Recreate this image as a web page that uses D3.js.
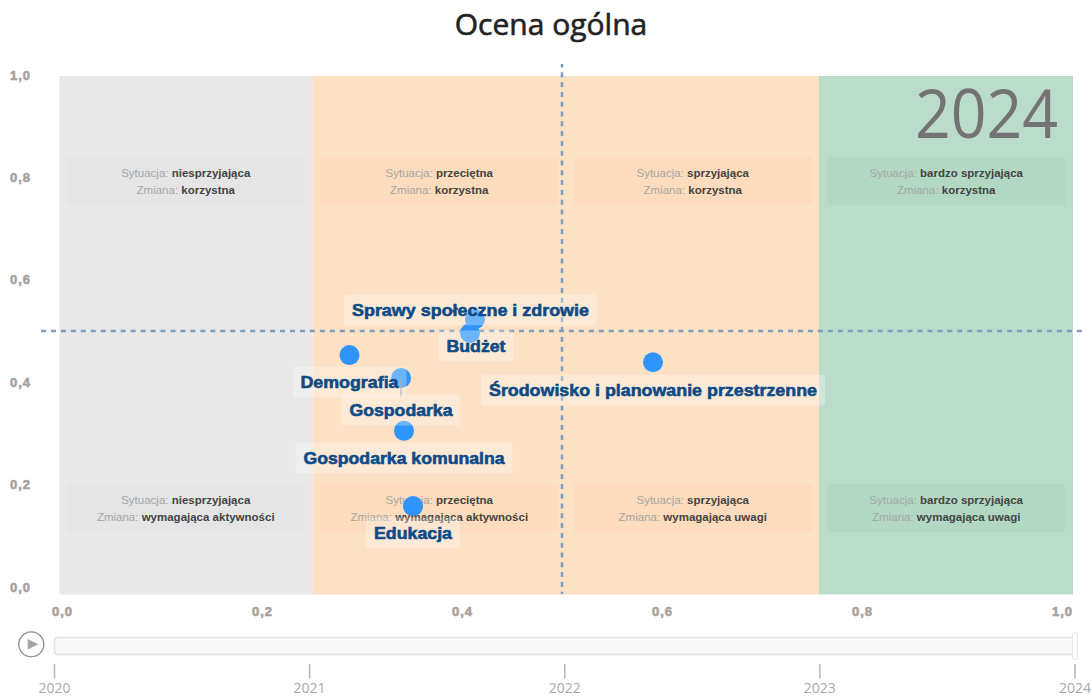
<!DOCTYPE html>
<html>
<head>
<meta charset="utf-8">
<script src="https://cdn.jsdelivr.net/npm/d3@7"></script>
<style>
    html, body { margin: 0; padding: 0; background: #fff; overflow: hidden; }
    svg { display: block; }
    .tick text { font-family: "Liberation Sans", sans-serif; font-weight: 700; font-size: 13px; fill: #a6a29e; stroke: #a6a29e; stroke-width: 0.6px; letter-spacing: 1px; }
    .note { font-family: "Liberation Sans", sans-serif; font-size: 11.5px; fill: #a5a5a5; text-anchor: middle; }
    .note tspan.val { font-weight: 700; fill: #444; }
    .label { font-family: "Liberation Sans", sans-serif; font-weight: 700; font-size: 17px; fill: #0d4a86; stroke: #0d4a86; stroke-width: 0.6px; text-anchor: middle; }
    .year { font-family: "Open Sans", sans-serif; font-size: 14px; fill: #a8a8a8; text-anchor: middle; }
</style>
</head>
<body>
<svg id="chart" width="1092" height="696"></svg>
<script>
'use strict';

var names = ["Sprawy społeczne i zdrowie", "Budżet", "Demografia", "Gospodarka",
    "Gospodarka komunalna", "Edukacja", "Środowisko i planowanie przestrzenne"];
var xValues = [0.413, 0.408, 0.2875, 0.339, 0.342, 0.351, 0.591];
var yValues = [0.523, 0.496, 0.453, 0.408, 0.305, 0.158, 0.439];

var situations = ["niesprzyjająca", "przeciętna", "sprzyjająca", "bardzo sprzyjająca"];
var changesTop = ["korzystna", "korzystna", "korzystna", "korzystna"];
var changesBottom = ["wymagająca aktywności", "wymagająca aktywności", "wymagająca uwagi", "wymagająca uwagi"];

var bandEdges = [-0.0025, 0.2505, 0.757, 1.011];
var axisTicks = [0, 0.2, 0.4, 0.6, 0.8, 1];
var years = ["2020", "2021", "2022", "2023", "2024"];
var currentYear = "2024";

var svg = d3.select("#chart");

var x = d3.scaleLinear().domain([0, 1]).range([62, 1062]);
var y = d3.scaleLinear().domain([0, 1]).range([587, 75]);
var comma = d3.formatLocale({ decimal: ",", thousands: " ", grouping: [3], currency: ["", ""] }).format(".1f");

function drawBands() {
    var colors = ["#e8e8e8", "#fce1c5", "#bcdccb"];
    svg.selectAll("rect.band")
        .data(d3.pairs(bandEdges))
        .enter().append("rect")
        .attr("class", "band")
        .attr("x", function (d) { return x(d[0]); })
        .attr("width", function (d) { return x(d[1]) - x(d[0]); })
        .attr("y", 76)
        .attr("height", 518.5)
        .attr("fill", function (d, i) { return colors[i]; });
}

function drawNotes(changes, top) {
    var boxColors = ["#e5e5e5", "#fcdcbc", "#fcdcbc", "#b2d8c3"];
    var cols = d3.scaleBand().domain(d3.range(4)).range([59, 1073]);
    var g = svg.append("g");

    situations.forEach(function (situation, i) {
        var cx = cols(i) + cols.bandwidth() / 2;
        g.append("rect")
            .attr("x", cx - 119)
            .attr("y", top)
            .attr("width", 238)
            .attr("height", 48)
            .attr("fill", boxColors[i]);

        var line1 = g.append("text").attr("class", "note").attr("x", cx).attr("y", top + 20);
        line1.append("tspan").text("Sytuacja: ");
        line1.append("tspan").attr("class", "val").text(situation);

        var line2 = g.append("text").attr("class", "note").attr("x", cx).attr("y", top + 37);
        line2.append("tspan").text("Zmiana: ");
        line2.append("tspan").attr("class", "val").text(changes[i]);
    });
}

function drawAxes() {
    svg.append("g")
        .attr("transform", "translate(0,600)")
        .call(d3.axisBottom(x).tickValues(axisTicks).tickFormat(comma).tickSize(0).tickPadding(7))
        .call(function (g) { g.select(".domain").remove(); });

    svg.append("g")
        .attr("transform", "translate(31,0)")
        .call(d3.axisLeft(y).tickValues(axisTicks).tickFormat(comma).tickSize(0).tickPadding(0))
        .call(function (g) { g.select(".domain").remove(); });
}

function drawCross() {
    var stroke = "#7f9cba";
    svg.append("line")
        .attr("x1", 41).attr("x2", 1083)
        .attr("y1", y(0.5)).attr("y2", y(0.5))
        .attr("stroke", stroke).attr("stroke-width", 2.5).attr("stroke-dasharray", "5,4.96");
    svg.append("line")
        .attr("x1", x(0.5)).attr("x2", x(0.5))
        .attr("y1", 64).attr("y2", 594)
        .attr("stroke", stroke).attr("stroke-width", 2.5)
        .attr("stroke-dasharray", "5,4.8").attr("stroke-dashoffset", 1.5);
}

function drawPoints() {
    // label placement relative to its point: dx, dy, text width
    var placement = [[-4.5, -9.5, 237], [6, 13, 59], [0, 27, 98], [0, 32, 103], [0, 27, 201], [0, 27, 78], [0, 28, 328]];

    svg.selectAll("circle.point")
        .data(names)
        .enter().append("circle")
        .attr("class", "point")
        .attr("cx", function (d, i) { return x(xValues[i]); })
        .attr("cy", function (d, i) { return y(yValues[i]); })
        .attr("r", 10)
        .attr("fill", "#2f94fb");

    // leader line of the one label that was pushed away
    svg.append("line")
        .attr("x1", x(xValues[3])).attr("x2", x(xValues[3]))
        .attr("y1", y(yValues[3])).attr("y2", y(yValues[3]) + 19)
        .attr("stroke", "#7f8c99").attr("stroke-width", 1);

    names.forEach(function (name, i) {
        var p = placement[i];
        var cx = x(xValues[i]) + p[0];
        var cy = y(yValues[i]) + p[1];
        svg.append("rect")
            .attr("x", cx - p[2] / 2 - 8)
            .attr("y", cy - 15.5)
            .attr("width", p[2] + 16)
            .attr("height", 31)
            .attr("rx", 3)
            .attr("fill", "#fff")
            .attr("opacity", 0.3);
        svg.append("text")
            .attr("class", "label")
            .attr("x", cx)
            .attr("y", cy + 6)
            .attr("textLength", p[2])
            .attr("lengthAdjust", "spacingAndGlyphs")
            .text(name);
    });
}

function drawTimeline() {
    var t = d3.scalePoint().domain(years).range([54.5, 1075]);

    svg.append("circle")
        .attr("cx", 31.3).attr("cy", 644.3).attr("r", 12.5)
        .attr("fill", "#fff").attr("stroke", "#8c8c8c").attr("stroke-width", 1.3);
    svg.append("path")
        .attr("d", d3.line()([[27.7, 639], [27.7, 649.5], [38.3, 644.3]]) + "Z")
        .attr("fill", "#a5a5a5");

    svg.append("rect")
        .attr("x", 54.5).attr("y", 637.5)
        .attr("width", 1021).attr("height", 17).attr("rx", 3)
        .attr("fill", "#f8f8f8").attr("stroke", "#e2e2e2").attr("stroke-width", 1.5);
    svg.append("rect")
        .attr("x", t(currentYear) - 2.5).attr("y", 632.5)
        .attr("width", 5).attr("height", 27).attr("rx", 2)
        .attr("fill", "#fff").attr("stroke", "#e2e2e2");

    var tick = svg.selectAll("g.yearTick").data(years).enter().append("g")
        .attr("class", "yearTick")
        .attr("transform", function (d) { return "translate(" + t(d) + ",0)"; });
    tick.append("line")
        .attr("y1", 664).attr("y2", 678.5)
        .attr("stroke", "#b5b5b5").attr("stroke-width", 1.5);
    tick.append("text")
        .attr("class", "year")
        .attr("y", 693)
        .text(function (d) { return d; });
}

drawBands();
drawNotes(changesTop, 157);
drawNotes(changesBottom, 484);
drawAxes();

svg.append("text")
    .attr("x", 1058).attr("y", 138)
    .attr("text-anchor", "end")
    .attr("font-family", "Open Sans, sans-serif")
    .attr("font-size", 67)
    .attr("textLength", 143)
    .attr("lengthAdjust", "spacingAndGlyphs")
    .attr("fill", "#737373")
    .text(currentYear);

drawCross();
drawPoints();
drawTimeline();

svg.append("text")
    .attr("x", 551).attr("y", 35)
    .attr("text-anchor", "middle")
    .attr("font-family", "Open Sans, sans-serif")
    .attr("font-size", 30)
    .attr("fill", "#222")
    .attr("stroke", "#222")
    .attr("stroke-width", 0.6)
    .text("Ocena ogólna");
</script>
</body>
</html>
